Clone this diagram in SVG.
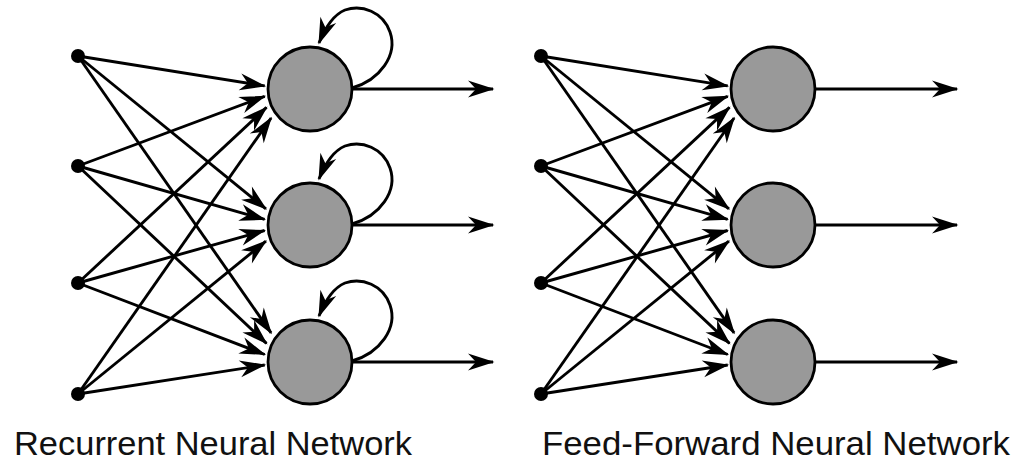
<svg xmlns="http://www.w3.org/2000/svg" width="1018" height="463" viewBox="0 0 1018 463">
<defs>
<marker id="ah" markerUnits="userSpaceOnUse" markerWidth="34" markerHeight="24" viewBox="-28 -12 30 24" refX="0" refY="0" orient="auto">
<path d="M1.5,0 L-25,-8.5 L-17,0 L-25,8.5 Z" fill="#000"/>
</marker>
</defs>
<style>
.in{fill:#000}
.node{fill:#999;stroke:#000;stroke-width:2.8}
.e{stroke:#000;stroke-width:2.9;fill:none;marker-end:url(#ah)}
.lbl{font-family:"Liberation Sans",Arial,sans-serif;font-size:34px;fill:#111}
</style>
<rect width="1018" height="463" fill="#fff"/>
<g id="connectors">
<line class="e" x1="78" y1="56" x2="264.7" y2="85.9"/>
<line class="e" x1="78" y1="166" x2="264.7" y2="96.3"/>
<line class="e" x1="78" y1="283" x2="266.5" y2="107.4"/>
<line class="e" x1="78" y1="394" x2="271.1" y2="118"/>
<line class="e" x1="78" y1="56" x2="265.9" y2="208.9"/>
<line class="e" x1="78" y1="166" x2="264.6" y2="219.4"/>
<line class="e" x1="78" y1="283" x2="264.6" y2="230.5"/>
<line class="e" x1="78" y1="394" x2="265.9" y2="241.1"/>
<line class="e" x1="78" y1="56" x2="271.1" y2="332.9"/>
<line class="e" x1="78" y1="166" x2="266.5" y2="343.4"/>
<line class="e" x1="78" y1="283" x2="264.7" y2="354.5"/>
<line class="e" x1="78" y1="394" x2="264.7" y2="365"/>
<line class="e" x1="352" y1="89" x2="493" y2="89"/>
<line class="e" x1="352" y1="225" x2="493" y2="225"/>
<line class="e" x1="352" y1="362" x2="493" y2="362"/>
<path class="e" d="M352,88 C380,80 398,55 390,32 C383,12 362,4 345,10 C333,15 325,28 319,43"/>
<path class="e" d="M352,224 C380,216 398,191 390,168 C383,148 362,140 345,146 C333,151 325,164 319,179"/>
<path class="e" d="M352,361 C380,353 398,328 390,305 C383,285 362,277 345,283 C333,288 325,301 319,316"/>
<line class="e" x1="541" y1="56" x2="727.7" y2="85.9"/>
<line class="e" x1="541" y1="166" x2="727.7" y2="96.3"/>
<line class="e" x1="541" y1="283" x2="729.5" y2="107.4"/>
<line class="e" x1="541" y1="394" x2="734.1" y2="118"/>
<line class="e" x1="541" y1="56" x2="728.9" y2="208.9"/>
<line class="e" x1="541" y1="166" x2="727.6" y2="219.4"/>
<line class="e" x1="541" y1="283" x2="727.6" y2="230.5"/>
<line class="e" x1="541" y1="394" x2="728.9" y2="241.1"/>
<line class="e" x1="541" y1="56" x2="734.1" y2="332.9"/>
<line class="e" x1="541" y1="166" x2="729.5" y2="343.4"/>
<line class="e" x1="541" y1="283" x2="727.7" y2="354.5"/>
<line class="e" x1="541" y1="394" x2="727.7" y2="365"/>
<line class="e" x1="815" y1="89" x2="957" y2="89"/>
<line class="e" x1="815" y1="225" x2="957" y2="225"/>
<line class="e" x1="815" y1="362" x2="957" y2="362"/>
</g>
<g id="rnn-in1"><circle class="in" cx="78" cy="56" r="7"/></g>
<g id="rnn-in2"><circle class="in" cx="78" cy="166" r="7"/></g>
<g id="rnn-in3"><circle class="in" cx="78" cy="283" r="7"/></g>
<g id="rnn-in4"><circle class="in" cx="78" cy="394" r="7"/></g>
<g id="rnn-h1"><circle class="node" cx="310" cy="89" r="42"/></g>
<g id="rnn-h2"><circle class="node" cx="310" cy="225" r="42"/></g>
<g id="rnn-h3"><circle class="node" cx="310" cy="362" r="42"/></g>
<g id="ff-in1"><circle class="in" cx="541" cy="56" r="7"/></g>
<g id="ff-in2"><circle class="in" cx="541" cy="166" r="7"/></g>
<g id="ff-in3"><circle class="in" cx="541" cy="283" r="7"/></g>
<g id="ff-in4"><circle class="in" cx="541" cy="394" r="7"/></g>
<g id="ff-h1"><circle class="node" cx="773" cy="89" r="42"/></g>
<g id="ff-h2"><circle class="node" cx="773" cy="225" r="42"/></g>
<g id="ff-h3"><circle class="node" cx="773" cy="362" r="42"/></g>
<g id="labels">
<text class="lbl" x="14" y="455" textLength="398" lengthAdjust="spacingAndGlyphs">Recurrent Neural Network</text>
<text class="lbl" x="542" y="455" textLength="468" lengthAdjust="spacingAndGlyphs">Feed-Forward Neural Network</text>
</g>
</svg>
